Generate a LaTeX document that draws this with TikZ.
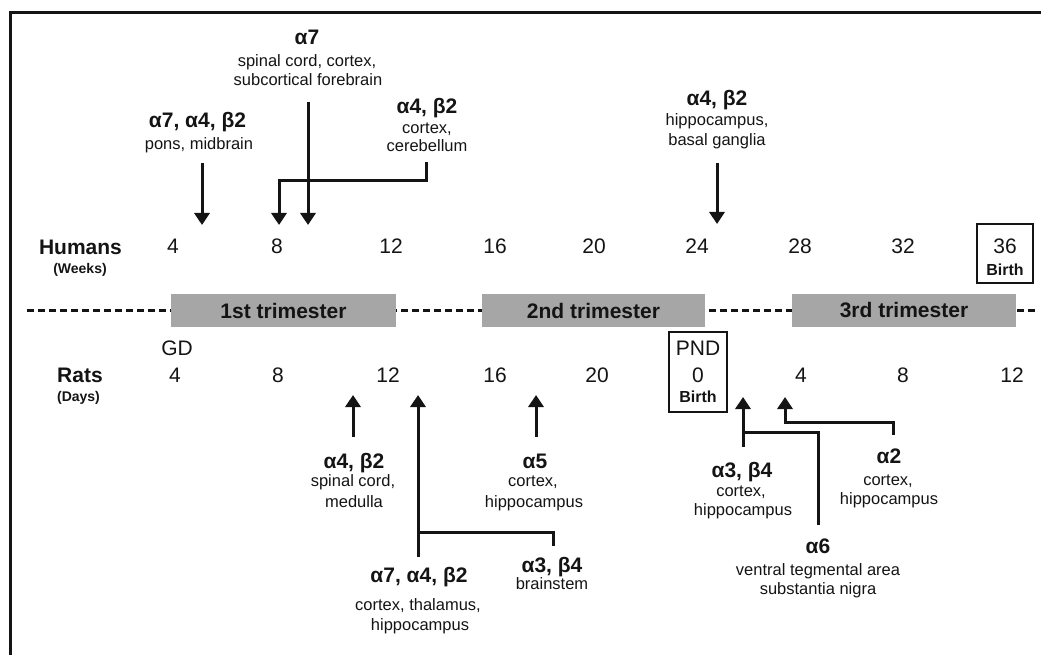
\documentclass[tikz,border=0pt]{standalone}
\usepackage{fontspec}
\setmainfont{Liberation Sans}
\usetikzlibrary{arrows.meta}
\definecolor{bargray}{RGB}{166,166,166}
\definecolor{ink}{RGB}{20,20,20}
\tikzset{
  ttl/.style={anchor=base, inner sep=0pt, text=ink, font=\fontsize{21}{24}\selectfont\bfseries},
  sub/.style={anchor=base, inner sep=0pt, text=ink, font=\fontsize{16.5}{19}\selectfont},
  num/.style={anchor=base, inner sep=0pt, text=ink, font=\fontsize{21}{24}\selectfont},
  unitlbl/.style={anchor=base, inner sep=0pt, text=ink, font=\fontsize{14}{16}\selectfont\bfseries},
  birthlbl/.style={anchor=base, inner sep=0pt, text=ink, font=\fontsize{16}{18}\selectfont\bfseries},
  trimbar/.style={fill=bargray, draw=none, inner sep=0pt, minimum height=33pt, text=ink, font=\fontsize{21}{24}\selectfont\bfseries},
  arr/.style={line width=3pt, draw=ink, -{Triangle[width=15pt,length=12pt]}},
  conn/.style={line width=3pt, draw=ink},
  boxframe/.style={draw=ink, line width=2.5pt, inner sep=0pt},
  dashline/.style={line width=2.5pt, draw=ink, dash pattern=on 7pt off 4pt},
  frameline/.style={line width=3pt, draw=ink}
}
\begin{document}
\begin{tikzpicture}[x=1pt,y=-1pt]
\useasboundingbox (0,0) rectangle (1041,655);
% frame
\coordinate (fbl) at (10,656);
\coordinate (ftl) at (10,13);
\coordinate (ftr) at (1042,13);
\draw[frameline] (fbl) -- (ftl) -- (ftr);

% dashed axis
\coordinate (dl) at (27,310.5);
\coordinate (dr) at (1036,310.5);
\draw[dashline] (dl) -- (dr);

% trimester bars
\node[trimbar, minimum width=225pt] (t1) at (283.5,310.5) {1st trimester};
\node[trimbar, minimum width=223pt] (t2) at (593.5,310.5) {2nd trimester};
\node[trimbar, minimum width=224pt] (t3) at (904,310.5) {3rd trimester};

% Humans row
\node[ttl] (hum) at (80.5,254) {Humans};
\node[unitlbl] (wk) at (80,273) {(Weeks)};
\node[num] (h4) at (173,253) {4};
\node[num] (h8) at (277,253) {8};
\node[num] (h12) at (391,253) {12};
\node[num] (h16) at (495,253) {16};
\node[num] (h20) at (594,253) {20};
\node[num] (h24) at (697,253) {24};
\node[num] (h28) at (800,253) {28};
\node[num] (h32) at (903,253) {32};
\node[boxframe, minimum width=56pt, minimum height=59pt] (b36) at (1005,253.5) {};
\node[num] (h36) at (1005,253) {36};
\node[birthlbl] (hb) at (1005,275) {Birth};

% Rats row
\node[ttl] (rat) at (80,382) {Rats};
\node[unitlbl] (dy) at (78.5,401) {(Days)};
\node[num] (gd) at (177,355) {GD};
\node[num] (r4) at (175,382) {4};
\node[num] (r8) at (278,382) {8};
\node[num] (r12) at (388,382) {12};
\node[num] (r16) at (495,382) {16};
\node[num] (r20) at (597,382) {20};
\node[boxframe, minimum width=58pt, minimum height=80pt] (bpnd) at (698,372) {};
\node[num] (pnd) at (698,355) {PND};
\node[num] (p0) at (698,382) {0};
\node[birthlbl] (pb) at (698,402) {Birth};
\node[num] (p4) at (801,382) {4};
\node[num] (p8) at (903,382) {8};
\node[num] (p12) at (1012,382) {12};

% ---- top labels ----
\node[ttl] (l1) at (197.5,128) {α7, α4, β2};
\node[sub] (l1a) at (199,150) {pons, midbrain};

\node[ttl] (l2) at (307,45) {α7};
\node[sub] (l2a) at (307,67) {spinal cord, cortex,};
\node[sub] (l2b) at (308,86) {subcortical forebrain};

\node[ttl] (l3) at (427,114) {α4, β2};
\node[sub] (l3a) at (427,134) {cortex,};
\node[sub] (l3b) at (427,152) {cerebellum};

\node[ttl] (l4) at (717,106) {α4, β2};
\node[sub] (l4a) at (717,126) {hippocampus,};
\node[sub] (l4b) at (717,146) {basal ganglia};

% top arrows
\coordinate (a1s) at (202,163);
\coordinate (a1e) at (202,225);
\draw[arr] (a1s) -- (a1e);

\coordinate (a2s) at (308,102);
\coordinate (a2e) at (308,225);
\draw[arr] (a2s) -- (a2e);

\coordinate (a3s) at (426,162);
\coordinate (a3k1) at (426,181);
\coordinate (a3k2) at (279,181);
\coordinate (a3e) at (279,225);
\draw[arr] (a3s) -- (a3k1) -- (a3k2) -- (a3e);

\coordinate (a4s) at (717,163);
\coordinate (a4e) at (717,224);
\draw[arr] (a4s) -- (a4e);

% ---- bottom labels ----
\node[ttl] (m1) at (354,468) {α4, β2};
\node[sub] (m1a) at (353,486) {spinal cord,};
\node[sub] (m1b) at (354,507) {medulla};

\node[ttl] (m2) at (535,468) {α5};
\node[sub] (m2a) at (533,486) {cortex,};
\node[sub] (m2b) at (534,507) {hippocampus};

\node[ttl] (m3) at (419,582) {α7, α4, β2};
\node[sub] (m3a) at (418,610) {cortex, thalamus,};
\node[sub] (m3b) at (420,630) {hippocampus};

\node[ttl] (m4) at (552,572) {α3, β4};
\node[sub] (m4a) at (552,589) {brainstem};

\node[ttl] (m5) at (742,477) {α3, β4};
\node[sub] (m5a) at (741,496) {cortex,};
\node[sub] (m5b) at (743,515) {hippocampus};

\node[ttl] (m6) at (889,463) {α2};
\node[sub] (m6a) at (888,485) {cortex,};
\node[sub] (m6b) at (889,504) {hippocampus};

\node[ttl] (m7) at (818,553) {α6};
\node[sub] (m7a) at (818,575) {ventral tegmental area};
\node[sub] (m7b) at (818,594) {substantia nigra};

% bottom arrows
\coordinate (b1s) at (353,437);
\coordinate (b1e) at (353,395);
\draw[arr] (b1s) -- (b1e);

\coordinate (b2s) at (418,557);
\coordinate (b2e) at (418,395);
\draw[arr] (b2s) -- (b2e);
\coordinate (b2j) at (418,532);
\coordinate (b2k) at (553,532);
\coordinate (b2t) at (553,546);
\draw[conn] (b2t) -- (b2k) -- (b2j);

\coordinate (b3s) at (536,437);
\coordinate (b3e) at (536,395);
\draw[arr] (b3s) -- (b3e);

\coordinate (b4s) at (743,447);
\coordinate (b4e) at (743,397);
\draw[arr] (b4s) -- (b4e);
\coordinate (b4j) at (743,432);
\coordinate (b4k) at (818,432);
\coordinate (b4t) at (818,525);
\draw[conn] (b4t) -- (b4k) -- (b4j);

\coordinate (b5s) at (893,435);
\coordinate (b5k1) at (893,422);
\coordinate (b5k2) at (785,422);
\coordinate (b5e) at (785,397);
\draw[arr] (b5s) -- (b5k1) -- (b5k2) -- (b5e);
\end{tikzpicture}
\end{document}
